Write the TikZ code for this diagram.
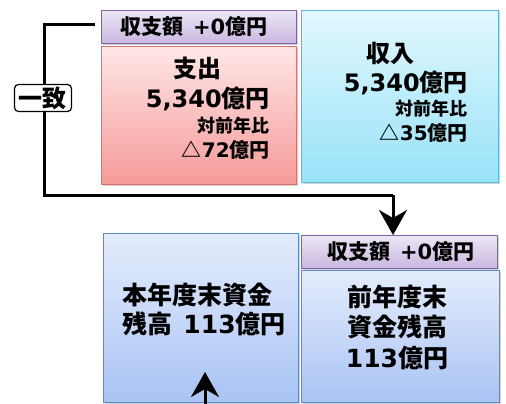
\documentclass[tikz,border=0pt]{standalone}
\usepackage{fontspec}
\setmainfont{Noto Sans CJK JP}
\newfontfamily\numf{DejaVu Sans}
\newcommand\nm[1]{{\numf #1}}
\usetikzlibrary{arrows.meta,shadows}
\definecolor{purB}{HTML}{8064A2}
\definecolor{purT}{HTML}{EDE6F5}
\definecolor{purD}{HTML}{C9B6E0}
\definecolor{redB}{HTML}{D9706C}
\definecolor{redT}{HTML}{FFE6E6}
\definecolor{redD}{HTML}{F59A98}
\definecolor{cyB}{HTML}{5BB8D4}
\definecolor{cyT}{HTML}{E2F8FE}
\definecolor{cyD}{HTML}{98E2F8}
\definecolor{blB}{HTML}{5A8AC8}
\definecolor{blT}{HTML}{E4ECFC}
\definecolor{blD}{HTML}{A9C3F4}
\tikzset{
  box/.style={rectangle, anchor=north west, inner sep=0pt, line width=1.2pt,
     drop shadow={opacity=0.35, shadow xshift=1.2pt, shadow yshift=-1.2pt}},
  purbox/.style={box, draw=purB, top color=purT, bottom color=purD},
  redbox/.style={box, draw=redB, top color=redT, bottom color=redD},
  cybox/.style={box, draw=cyB, top color=cyT, bottom color=cyD},
  blbox/.style={box, draw=blB, top color=blT, bottom color=blD},
  fs/.style={inner sep=0pt, font=\fontsize{#1}{#1}\selectfont\bfseries},
  conn/.style={line width=3pt},
  arr/.style={conn, -{Stealth[length=25pt,width=28pt,inset=8pt]}}
}
\begin{document}
\begin{tikzpicture}[x=1pt,y=-1pt]
\useasboundingbox (0,0) rectangle (506,404);
% boxes
\node[purbox, minimum width=195pt, minimum height=33pt] (bal1) at (101,10) {};
\node[redbox, minimum width=195pt, minimum height=138pt] (exp) at (101,46) {};
\node[cybox, minimum width=197pt, minimum height=172pt] (inc) at (301,10) {};
\node[blbox, minimum width=195pt, minimum height=169pt] (cur) at (103,233) {};
\node[purbox, minimum width=196pt, minimum height=33pt] (bal2) at (301,235) {};
\node[blbox, minimum width=198pt, minimum height=132pt] (prev) at (301,270) {};
% texts
\node[fs=21] (t1) at (194,27) {収支額\hspace{0.45em}\nm{+0}億円};
\node[fs=24] (t2) at (197,68) {支出};
\node[fs=24, anchor=east] (t3) at (270,99) {\nm{5,340}億円};
\node[fs=18, anchor=east] (t4) at (270,126) {対前年比};
\node[fs=20, anchor=east] (t5) at (270,150) {△\nm{72}億円};
\node[fs=24] (t6) at (390,53) {収入};
\node[fs=24, anchor=east] (t7) at (468,83) {\nm{5,340}億円};
\node[fs=18, anchor=east] (t8) at (468,109) {対前年比};
\node[fs=20, anchor=east] (t9) at (468,133) {△\nm{35}億円};
\node[fs=25, anchor=west] (t10) at (122,295) {本年度末資金};
\node[fs=25, anchor=west] (t11) at (122,324) {残高\hspace{0.45em}\nm{113}億円};
\node[fs=21] (t12) at (401,252) {収支額\hspace{0.45em}\nm{+0}億円};
\node[fs=25] (t13) at (397,297) {前年度末};
\node[fs=25] (t14) at (397,327) {資金残高};
\node[fs=25] (t15) at (397,358) {\nm{113}億円};
% connectors
\coordinate (lt) at (44,25);
\coordinate (lb) at (44,195);
\coordinate (dn) at (393,195);
\draw[conn] ([xshift=-6pt]bal1.west |- lt) -- (lt) -- (lb) -- (dn);
\draw[arr] (dn) -- (dn |- bal2.north);
\node[draw, rounded corners=4pt, fill=white, line width=1.2pt, inner sep=1.5pt,
  minimum width=57pt, minimum height=27pt,
  font=\fontsize{24}{24}\selectfont\bfseries] (match) at (43,98) {一致};
\coordinate (ub) at (205,404);
\coordinate (ut) at (205,372);
\draw[arr] (ub) -- (ut);
\end{tikzpicture}
\end{document}
